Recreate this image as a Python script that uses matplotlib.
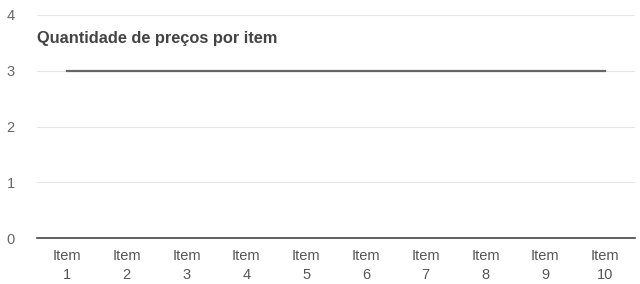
import matplotlib.pyplot as plt

plt.rcParams['font.family'] = ['Liberation Sans', 'DejaVu Sans']

# data
items = ['Item\n1', 'Item\n2', 'Item\n3', 'Item\n4', 'Item\n5',
         'Item\n6', 'Item\n7', 'Item\n8', 'Item\n9', 'Item\n10']
precos = [3, 3, 3, 3, 3, 3, 3, 3, 3, 3]
y_ticks = [0, 1, 2, 3, 4]

fig = plt.figure(figsize=(6.4, 2.84), dpi=100)
ax = fig.add_axes([37/640, 46/284, 598/640, 223/284])

x = list(range(len(items)))
ax.plot(x, precos, color='#666666', linewidth=1.6)

ax.set_xlim(-0.5, len(items) - 0.5)
ax.set_ylim(0, 4)
ax.set_yticks(y_ticks)
ax.set_xticks(x)
ax.set_xticklabels(items, fontsize=10.5, color='#555555', linespacing=1.45)
ax.set_yticklabels([str(v) for v in y_ticks], fontsize=10.5, color='#666666')
ax.tick_params(length=0, pad=8)
ax.tick_params(axis='y', pad=16)

ax.grid(axis='y', color='#e6e6e6', linewidth=0.8)
ax.set_axisbelow(True)
for s in ['top', 'right', 'left']:
    ax.spines[s].set_visible(False)
ax.spines['bottom'].set_color('#444444')
ax.spines['bottom'].set_linewidth(1.2)

fig.text(37/640, 1 - 38/284, 'Quantidade de preços por item', fontsize=11.8,
         fontweight='bold', color='#444444', va='center', ha='left')

fig.savefig('out.png')
